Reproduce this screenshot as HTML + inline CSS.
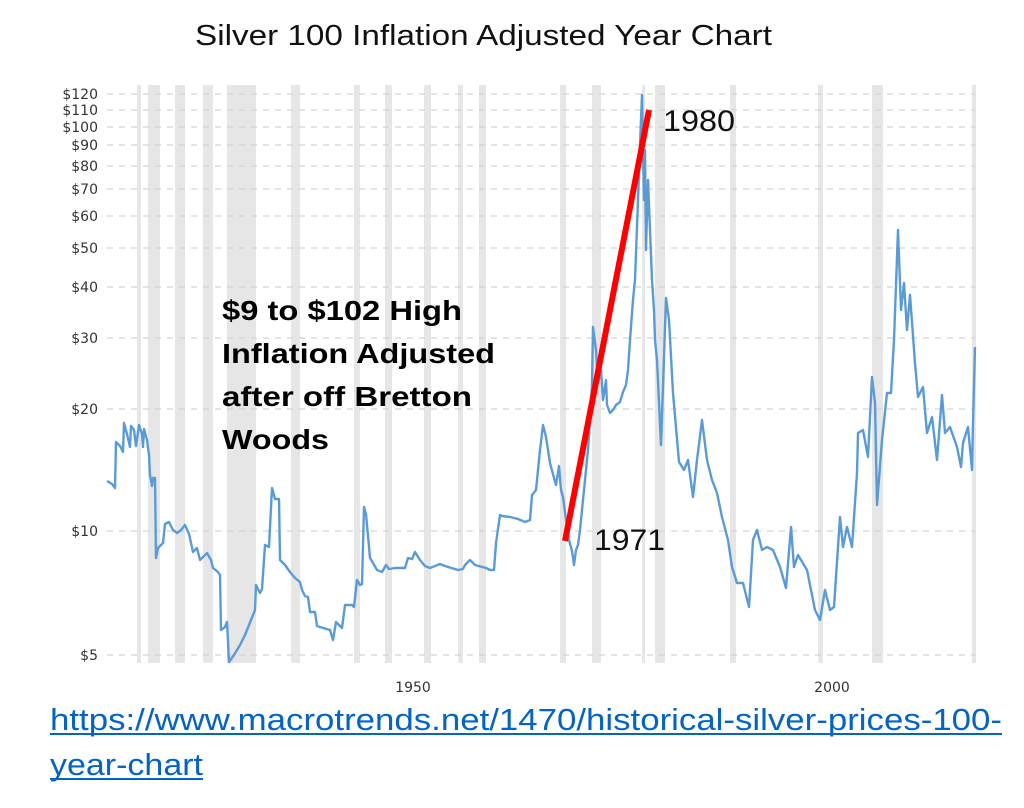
<!DOCTYPE html>
<html><head><meta charset="utf-8"><style>
body{margin:0;background:#fff;}
svg{display:block;}
</style></head><body>
<svg width="1024" height="808" xmlns="http://www.w3.org/2000/svg" font-family="Liberation Sans, sans-serif">
<rect width="1024" height="808" fill="#fff"/>
<g fill="#e6e6e6">
<rect x="137" y="85" width="4" height="578"/><rect x="148" y="85" width="12" height="578"/><rect x="175" y="85" width="10" height="578"/><rect x="203" y="85" width="10" height="578"/><rect x="227" y="85" width="29" height="578"/><rect x="291" y="85" width="9" height="578"/><rect x="354" y="85" width="6" height="578"/><rect x="385" y="85" width="7" height="578"/><rect x="424" y="85" width="7" height="578"/><rect x="458" y="85" width="5" height="578"/><rect x="479" y="85" width="7" height="578"/><rect x="560" y="85" width="6" height="578"/><rect x="592" y="85" width="9" height="578"/><rect x="642" y="85" width="3" height="578"/><rect x="655" y="85" width="10" height="578"/><rect x="730" y="85" width="6" height="578"/><rect x="818" y="85" width="5" height="578"/><rect x="872" y="85" width="11" height="578"/><rect x="972" y="85" width="4" height="578"/>
</g>
<g stroke="#d4d4d4" stroke-width="1.3" stroke-dasharray="6,6">
<line x1="107" x2="975" y1="94" y2="94"/><line x1="107" x2="975" y1="110" y2="110"/><line x1="107" x2="975" y1="127" y2="127"/><line x1="107" x2="975" y1="145" y2="145"/><line x1="107" x2="975" y1="166" y2="166"/><line x1="107" x2="975" y1="189" y2="189"/><line x1="107" x2="975" y1="216" y2="216"/><line x1="107" x2="975" y1="248" y2="248"/><line x1="107" x2="975" y1="287" y2="287"/><line x1="107" x2="975" y1="338" y2="338"/><line x1="107" x2="975" y1="409" y2="409"/><line x1="107" x2="975" y1="531" y2="531"/><line x1="107" x2="975" y1="655" y2="655"/>
</g>
<g font-size="14" fill="#333" text-anchor="end" font-family="DejaVu Sans, sans-serif">
<text x="98" y="99">$120</text><text x="98" y="115">$110</text><text x="98" y="132">$100</text><text x="98" y="150">$90</text><text x="98" y="171">$80</text><text x="98" y="194">$70</text><text x="98" y="221">$60</text><text x="98" y="253">$50</text><text x="98" y="292">$40</text><text x="98" y="343">$30</text><text x="98" y="414">$20</text><text x="98" y="536">$10</text><text x="98" y="660">$5</text>
</g>
<g font-size="14" fill="#333" text-anchor="middle" font-family="DejaVu Sans, sans-serif"><text x="413" y="692">1950</text><text x="832" y="692">2000</text></g>
<polyline fill="none" stroke="#5b9bd5" stroke-width="2.4" stroke-linejoin="round" points="107,481 112,484 115,488 116,442 120,446 123,452 124,423 127,434 130,447 131,426 134,430 136,446 139,425 142,434 143,447 144,429 147,440 149,455 150,475 152,486 153,478 155,478 156,558 158,548 163,543 165,524 169,522 173,530 177,533 181,530 185,525 189,534 193,552 197,548 200,560 203,557 207,553 211,560 213,568 218,572 220,575 221,630 225,627 227,622 229,662 234,655 240,645 245,635 255,610 256,585 260,593 262,589 265,545 269,547 272,488 275,499 279,499 280,560 285,565 290,572 295,578 300,582 302,590 305,596 308,597 310,612 315,612 317,626 323,628 330,630 333,640 336,622 342,628 345,605 352,605 354,607 357,580 360,585 362,584 364,507 366,514 370,558 373,563 377,570 382,572 386,565 389,569 395,568 405,568 408,558 412,559 415,552 420,560 425,566 430,568 440,564 445,566 458,570 463,569 465,565 470,560 475,565 486,568 490,570 494,570 496,543 500,515 502,516 510,517 518,519 525,522 530,520 532,495 536,490 540,450 543,425 546,437 548,450 550,463 554,478 556,485 559,466 561,490 563,497 566,520 569,540 572,551 574,565 576,550 578,545 580,530 583,500 585,480 588,450 590,420 592,385 593,327 596,350 598,383 601,370 603,400 606,380 607,405 610,413 613,410 616,405 620,402 623,392 626,385 628,370 630,340 633,300 635,280 638,200 640,145 642,95 644,200 645,150 646,250 648,180 650,230 652,280 654,310 655,340 657,360 661,445 666,298 669,320 673,393 679,462 684,470 688,460 693,497 697,460 702,420 707,460 712,480 717,493 722,517 728,540 732,567 737,583 743,583 749,607 753,540 757,530 762,550 767,547 773,550 780,567 786,588 791,527 794,567 798,555 807,570 815,610 820,620 825,590 830,610 834,607 840,517 843,547 847,527 852,547 857,473 858,433 863,430 868,457 872,377 875,403 877,505 882,440 887,393 891,393 894,340 898,230 901,310 904,283 907,330 910,295 915,363 918,397 923,387 927,433 932,417 937,460 942,395 945,433 950,427 957,447 961,467 963,443 968,427 972,470 973,423 975,347"/>
<line x1="565" y1="541" x2="649" y2="110" stroke="#ff0000" stroke-width="6"/>
<text x="663" y="131" font-size="30" fill="#111" textLength="72" lengthAdjust="spacingAndGlyphs">1980</text>
<text x="594" y="550" font-size="30" fill="#111" textLength="71" lengthAdjust="spacingAndGlyphs">1971</text>
<g font-size="28" font-weight="bold" fill="#000">
<text x="222" y="320" textLength="240" lengthAdjust="spacingAndGlyphs">$9 to $102 High</text><text x="222" y="363" textLength="273" lengthAdjust="spacingAndGlyphs">Inflation Adjusted</text><text x="222" y="406" textLength="250" lengthAdjust="spacingAndGlyphs">after off Bretton</text><text x="222" y="449" textLength="107" lengthAdjust="spacingAndGlyphs">Woods</text>
</g>
<text x="195" y="45" font-size="29" fill="#111" textLength="577" lengthAdjust="spacingAndGlyphs">Silver 100 Inflation Adjusted Year Chart</text>
<g font-size="31" fill="#0563c1"><text x="50" y="730" textLength="952" lengthAdjust="spacingAndGlyphs">https://www.macrotrends.net/1470/historical-silver-prices-100-</text><text x="50" y="775" textLength="153" lengthAdjust="spacingAndGlyphs">year-chart</text></g>
<line x1="50" x2="1002" y1="734" y2="734" stroke="#0563c1" stroke-width="2"/>
<line x1="50" x2="203" y1="779" y2="779" stroke="#0563c1" stroke-width="2"/>
</svg>
</body></html>
